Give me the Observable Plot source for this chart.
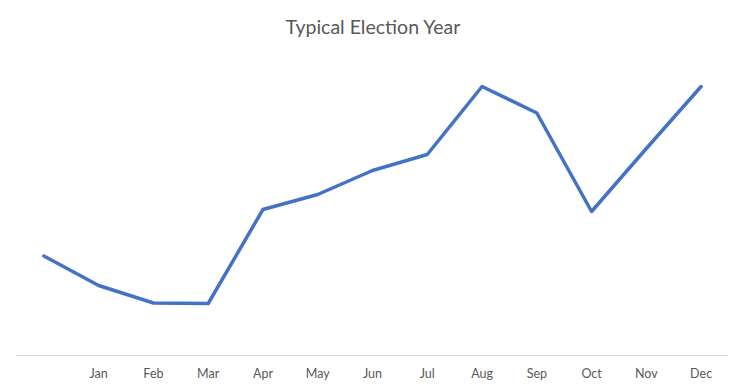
<!DOCTYPE html>
<html>
<head>
<meta charset="utf-8">
<script src="https://cdn.jsdelivr.net/npm/d3@7"></script>
<script src="https://cdn.jsdelivr.net/npm/@observablehq/plot@0.6"></script>
<style>
  html, body { margin: 0; padding: 0; background: #fff; }
  #title { height: 50px; box-sizing: border-box; padding-top: 15px; text-align: center;
    font-family: Lato, "Open Sans", sans-serif; font-size: 19.5px; color: #595959; }
  #chart svg { display: block; }
</style>
</head>
<body>
<div id="title">Typical Election Year</div>
<div id="chart"></div>
<script>
const categories = ["", "Jan", "Feb", "Mar", "Apr", "May", "Jun", "Jul", "Aug", "Sep", "Oct", "Nov", "Dec"];
const values = [99.5, 70, 52.5, 52, 146, 161, 185, 201, 269, 242.5, 144, 207, 269];

const data = categories.map((c, i) => ({key: i, label: c, value: values[i]}));

const chart = Plot.plot({
  width: 746,
  height: 341,
  marginTop: 5,
  marginBottom: 36,
  marginLeft: 16,
  marginRight: 18,
  style: {fontFamily: "Lato, 'Open Sans', sans-serif", fontSize: "12.5px", color: "#595959", background: "#fff"},
  x: {type: "point", domain: d3.range(categories.length), padding: 0.5, round: false, label: null,
      tickFormat: i => categories[i], tickSize: 0, tickPadding: 14},
  y: {domain: [0, 300], axis: null},
  marks: [
    Plot.ruleY([0], {stroke: "#d9d9d9", strokeWidth: 1}),
    Plot.axisX({tickSize: 0, tickPadding: 14, tickFormat: i => categories[i], fill: "#595959", fontSize: 12.5}),
    Plot.line(data, {x: "key", y: "value", stroke: "#4472C4", strokeWidth: 3.5, strokeLinejoin: "round", strokeLinecap: "round"})
  ]
});
document.getElementById("chart").appendChild(chart);
</script>
</body>
</html>
